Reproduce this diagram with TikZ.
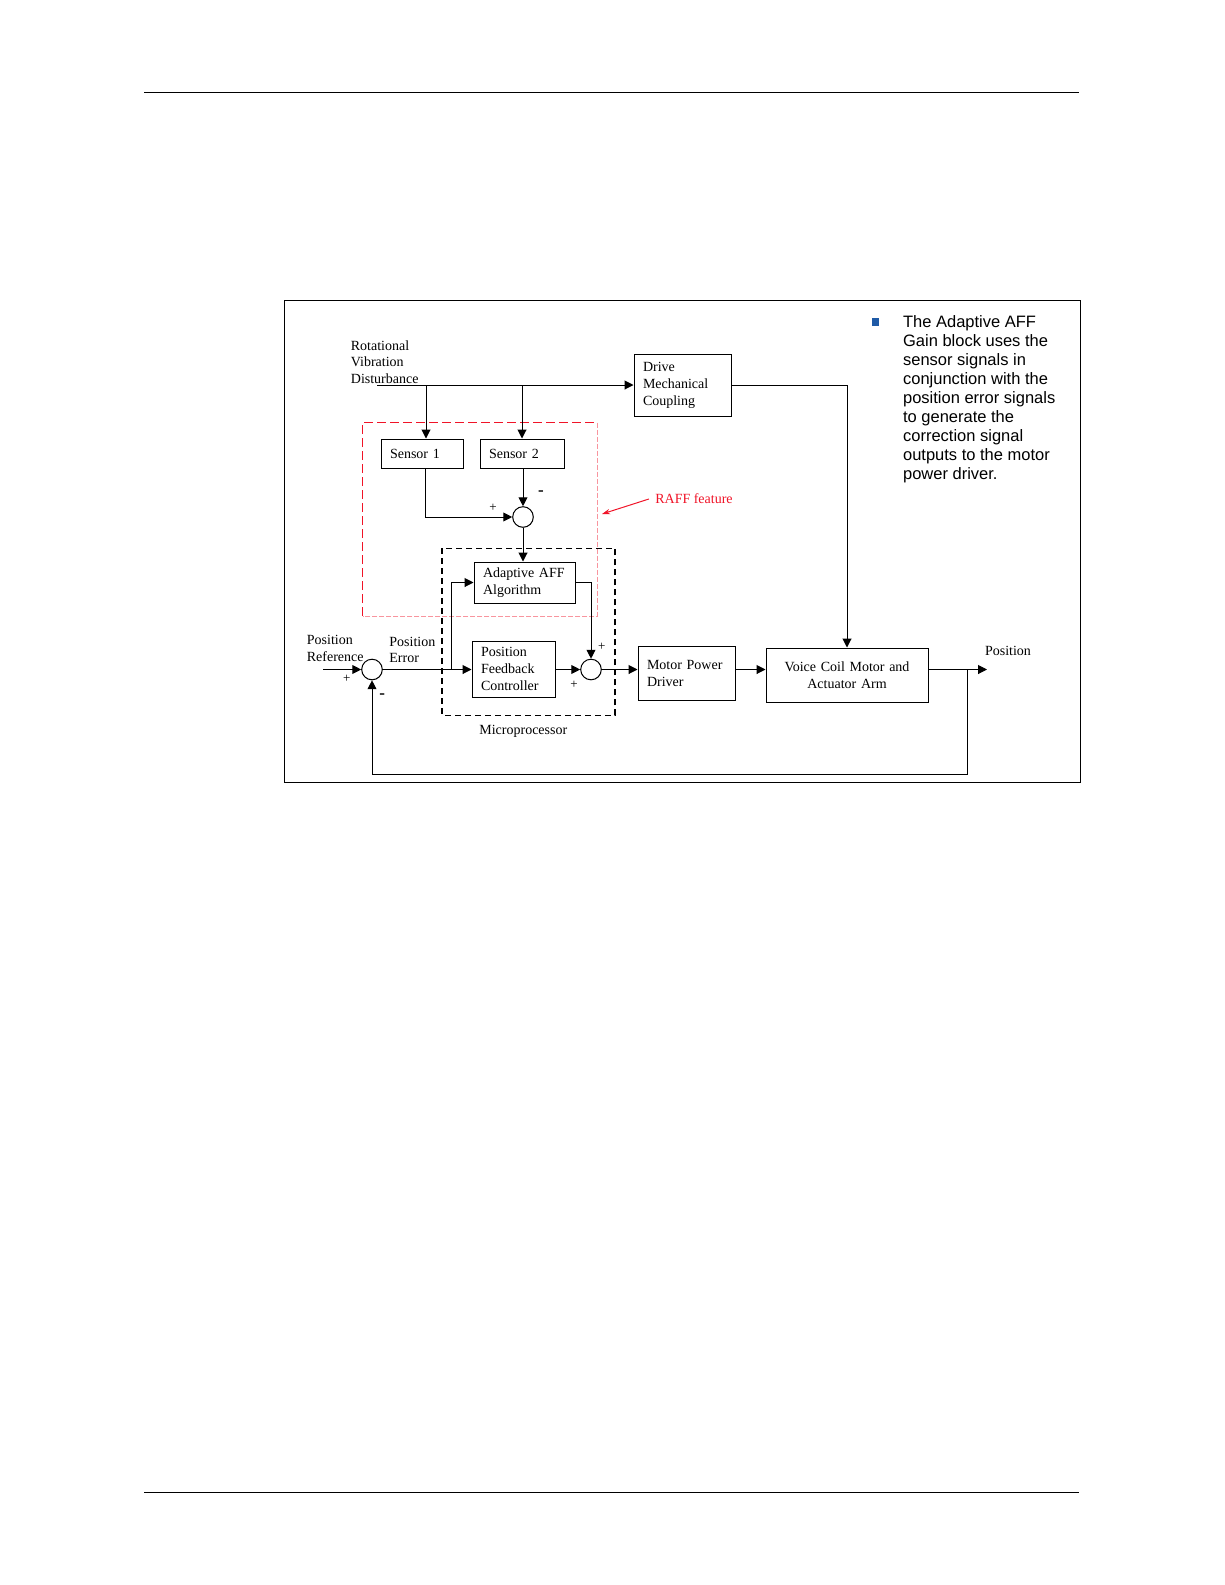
\documentclass[tikz,border=0pt]{standalone}
\usepackage{fontspec}
\setmainfont{Liberation Serif}
\newfontfamily\notefont{Liberation Sans}
\usepackage{tikz}
\usetikzlibrary{arrows.meta}

\definecolor{bulletblue}{RGB}{31,90,166}
\definecolor{raffred}{RGB}{240,20,40}

\begin{document}
\begin{tikzpicture}[x=0.5pt, y=-0.5pt,
    blk/.style={draw, line width=0.5pt, align=left, inner xsep=4.5pt, inner ysep=0pt,
        font=\fontsize{7}{8.5}\selectfont},
    sumnode/.style={draw, circle, line width=0.5pt, minimum size=10.3pt, inner sep=0pt},
    sig/.style={line width=0.5pt, -{Triangle[length=4.4pt, width=4.4pt]}},
    lbl/.style={inner sep=0pt, align=left, font=\fontsize{7}{8.3}\selectfont},
    sgn/.style={inner sep=0pt, font=\fontsize{6.5}{7}\selectfont},
    neg/.style={inner sep=0pt, font=\fontsize{8.5}{9}\selectfont\bfseries}]
    \useasboundingbox (0,0) rectangle (1225,1585);

    % page rules
    \draw[line width=0.7pt] (144.3,92.3) -- (1079.3,92.3);
    \draw[line width=0.7pt] (144.3,1492.3) -- (1079.3,1492.3);

    % frame
    \draw[line width=0.6pt] (284.3,300.7) rectangle (1080.3,782.3);

    % RAFF and microprocessor regions
    \draw[raffred, line width=0.6pt, dash pattern=on 4.5pt off 2pt] (362.7,616) -- (362.7,422.7) -- (597,422.7);
    \draw[raffred!45, line width=0.5pt, dash pattern=on 2.5pt off 1pt] (597,422.7) -- (597,616) -- (362.7,616);
    \draw[line width=0.65pt, dash pattern=on 3pt off 2pt] (442,548.3) rectangle (615,715.3);

    % blocks
    \node[blk, text width=39.5pt, minimum height=31pt] (drive) at (682.5,385) {Drive\\Mechanical\\Coupling};
    \node[blk, text width=32pt, minimum height=14.5pt] (sensorA) at (422,453.5) {Sensor 1};
    \node[blk, text width=33pt, minimum height=14.5pt] (sensorB) at (522,453.5) {Sensor 2};
    \node[blk, text width=41.5pt, minimum height=20.5pt] (adapt) at (524.5,582.5) {Adaptive AFF\\Algorithm};
    \node[blk, text width=32.5pt, minimum height=28pt] (pfc) at (513.5,669) {Position\\Feedback\\Controller};
    \node[blk, text width=39.5pt, minimum height=27pt] (mpd) at (686.5,673) {Motor Power\\Driver};
    \node[blk, align=center, text width=72pt, minimum height=27pt] (vcm) at (847,675) {Voice Coil Motor and\\Actuator Arm};

    % summing junctions
    \node[sumnode] (sumA) at (523,517) {};
    \node[sumnode] (sumB) at (372,669.5) {};
    \node[sumnode] (sumC) at (591,669.5) {};

    % free ends
    \coordinate (dist) at (377,385);
    \coordinate (ref) at (323,669.5);
    \coordinate (br) at (451,669.5);
    \coordinate (tap) at (967,669.5);
    \coordinate (fbend) at (967,774);
    \coordinate (out) at (987,669.5);
    \coordinate (raffend) at (602,514);

    % disturbance path
    \draw[sig] (dist) -- (drive.west);
    \draw[sig] ([xshift=2pt]sensorA.north |- dist) -- ([xshift=2pt]sensorA.north);
    \draw[sig] (sensorB.north |- dist) -- (sensorB.north);
    \draw[sig] ([xshift=1.5pt]sensorA.south) |- (sumA.west);
    \draw[sig] (sensorB.south -| sumA) -- (sumA.north);
    \draw[sig] (sumA.south) -- (sumA |- adapt.north);
    \draw[sig] (drive.east) -| (vcm.north);

    % main loop
    \draw[sig] (ref) -- (sumB.west);
    \draw[sig] (sumB.east) -- (sumB.east -| pfc.west);
    \draw[sig] (br) |- (adapt.west);
    \draw[sig] (adapt.east) -| (sumC.north);
    \draw[sig] (sumC -| pfc.east) -- (sumC.west);
    \draw[sig] (sumC.east) -- (sumC -| mpd.west);
    \draw[sig] (sumC -| mpd.east) -- (sumC -| vcm.west);
    \draw[sig] (sumC -| vcm.east) -- (out);
    \draw[sig] (tap) -- (fbend) -| (sumB.south);

    % signs
    \node[sgn] (pA) at (493,508) {+};
    \node[neg] (mA) at (541,493) {-};
    \node[sgn] (pB) at (346.7,679) {+};
    \node[neg] (mB) at (382.3,696) {-};
    \node[sgn] (pC) at (601.7,646.7) {+};
    \node[sgn] (qC) at (574,685) {+};

    % labels
    \node[lbl, anchor=west] (rvd) at (350.5,362) {Rotational\\Vibration\\Disturbance};
    \node[lbl, anchor=west] (posref) at (306.5,648.5) {Position\\Reference};
    \node[lbl, anchor=west] (poserr) at (389,650) {Position\\Error};
    \node[lbl] (micro) at (523.3,731) {Microprocessor};
    \node[lbl] (pos) at (1008,651) {Position};

    % RAFF feature
    \node[lbl, text=raffred, inner xsep=3pt] (raff) at (694,499) {RAFF feature};
    \draw[raffred, line width=0.5pt, -{Stealth[length=4pt, width=2.6pt]}] (raff.west) -- (raffend);

    % note
    \node[fill=bulletblue, minimum size=3.6pt, inner sep=0pt] (bullet) at (875.8,322) {};
    \node[anchor=north west, align=left, inner sep=0pt,
        font=\notefont\fontsize{8.25}{9.5}\selectfont] (note) at (902.7,315.5)
        {The Adaptive AFF\\Gain block uses the\\sensor signals in\\conjunction with the\\position error signals\\to generate the\\correction signal\\outputs to the motor\\power driver.};
\end{tikzpicture}
\end{document}
